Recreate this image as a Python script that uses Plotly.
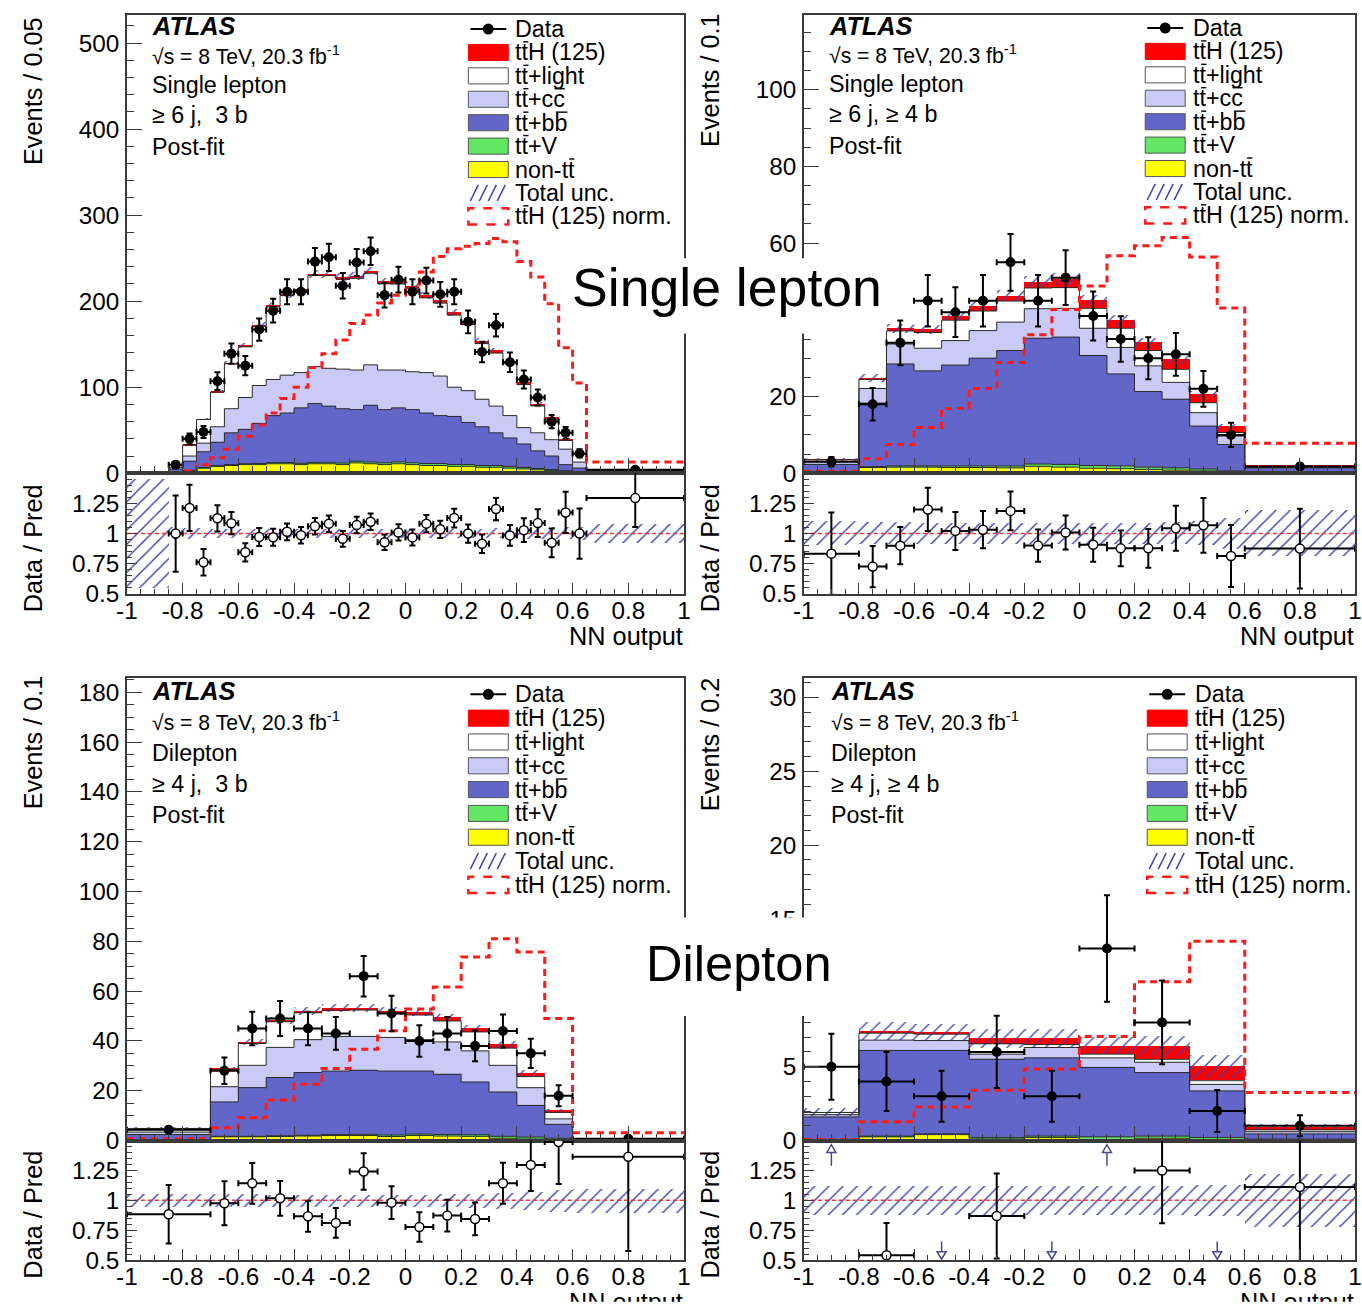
import math
import plotly.graph_objects as go

# ---------------------------------------------------------------------------
# Canvas and style
# ---------------------------------------------------------------------------
FIG_W, FIG_H = 1362, 1315
# Positions below are given in window pixels; the page is displayed with a
# small offset and scale, which these constants undo.
X_PAD = 8
SX = FIG_W / (FIG_W + 2 * X_PAD)
SY = 0.99
Y_OFF = 1.0
Y_CAL_A, Y_CAL_B = 7.1, 0.9944
FK = 1 / SX  # font size compensation

FONT = "Liberation Sans, Arial, Helvetica, sans-serif"
FRAME = "#3a3a3a"
OUTLINE = "#2a2a2a"

COL_TTH = "#ff0000"
COL_LIGHT = "#ffffff"
COL_CC = "#c9caf6"
COL_BB = "#6366c9"
COL_TTV = "#63e663"
COL_NONTT = "#ffff00"
COL_UNC = "#3e3eb0"
COL_NORM = "#ff1a1a"
COL_ARROW = "#4a4a8c"

# ---------------------------------------------------------------------------
# Single lepton, >= 6 j, 3 b   (Events / 0.05)
# ---------------------------------------------------------------------------
edges_sl3b = [-1.0, -0.85, -0.8, -0.75, -0.7, -0.65, -0.6, -0.55, -0.5, -0.45, -0.4,
              -0.35, -0.3, -0.25, -0.2, -0.15, -0.1, -0.05, 0.0, 0.05, 0.1, 0.15, 0.2,
              0.25, 0.3, 0.35, 0.4, 0.45, 0.5, 0.55, 0.6, 0.65, 1.0]
data_sl3b = [None, 10, 40, 48, 107, 139, 125, 167, 189, 211, 211, 246, 251, 218, 245, 258,
             207, 225, 211, 224, 208, 211, 176, 141, 172, 129, 109, 88, 60, 47, 23, 4.14]
nontt_sl3b = [0.2, 1, 3, 6, 8, 9, 10, 10, 11, 11, 10, 11, 11, 10, 12, 11, 10, 11, 10, 9, 9,
              8, 8, 7, 7, 6, 5, 4, 3, 2, 1.5, 0.3]
ttV_sl3b = [0, 0.1, 0.3, 0.5, 0.8, 1, 1, 1.2, 1.3, 1.4, 1.5, 1.6, 1.7, 1.8, 1.9, 2, 2, 2.1,
            2.1, 2.2, 2.2, 2.2, 2.1, 2, 2, 1.9, 1.7, 1.5, 1.2, 0.9, 0.5, 0.1]
bb_sl3b = [0.3, 3.9, 10.7, 18.5, 27.2, 37, 40, 46.8, 54.7, 57.6, 64.5, 68.4, 65.3, 63.2, 60.1,
           66, 62, 62.9, 61.9, 58.8, 55.8, 55.8, 48.9, 45, 38, 33.1, 27.3, 20.5, 15.8, 7.1, 4, 1.1]
cc_sl3b = [0.1, 2, 6, 10, 18, 28, 37, 44, 42, 44, 41, 43, 44, 46, 46, 47, 46, 44, 44, 47, 46,
           34, 37, 32, 31, 26, 19, 21, 19, 18, 7, 0.5]
light_sl3b = [0.2, 2.8, 12.7, 27.5, 40.4, 52.2, 59, 68.8, 84.6, 92.4, 95.2, 106, 107.8, 104.7,
              106.5, 106.4, 100.2, 100.1, 97, 86.9, 84.8, 83.8, 76.7, 64.7, 61.7, 60.8, 50,
              31.2, 23.6, 10.2, 9, 1]
ttH_sl3b = [0, 0.2, 0.3, 0.5, 0.6, 0.8, 1, 1.2, 1.4, 1.6, 1.8, 2, 2.2, 2.3, 2.5, 2.6, 2.8, 2.9,
            3, 3.1, 3.2, 3.2, 3.3, 3.3, 3.3, 3.2, 3, 2.8, 2.4, 1.8, 1, 0.2]
norm_sl3b = [0, 0.5, 3, 10, 18, 28, 43, 56, 70, 87, 100, 123, 139, 155, 174, 184, 198, 207,
             213, 234, 252, 261, 264, 267, 273, 269, 246, 228, 197, 146, 105, 13]
unc_main_sl3b = [0.45, 0.03, 0.025, 0.025, 0.02, 0.02, 0.02, 0.02, 0.02, 0.02, 0.02, 0.02,
                 0.02, 0.02, 0.02, 0.02, 0.02, 0.02, 0.02, 0.02, 0.02, 0.02, 0.02, 0.02, 0.02,
                 0.025, 0.025, 0.025, 0.03, 0.03, 0.035, 0.08]
unc_ratio_sl3b = [0.45, 0.05, 0.045, 0.04, 0.035, 0.035, 0.035, 0.035, 0.035, 0.035, 0.035,
                  0.035, 0.035, 0.035, 0.035, 0.035, 0.035, 0.035, 0.035, 0.035, 0.035, 0.035,
                  0.035, 0.035, 0.04, 0.04, 0.045, 0.045, 0.05, 0.05, 0.055, 0.08]

# ---------------------------------------------------------------------------
# Single lepton, >= 6 j, >= 4 b   (Events / 0.1)
# ---------------------------------------------------------------------------
edges_sl4b = [-1.0, -0.8, -0.7, -0.6, -0.5, -0.4, -0.3, -0.2, -0.1, 0.0, 0.1, 0.2, 0.3, 0.4,
              0.5, 0.6, 1.0]
data_sl4b = [3.0, 18, 34, 45, 42, 45, 55, 45, 51, 41, 35, 30, 31, 22, 10, 1.75]
nontt_sl4b = [0.3, 1.5, 1.6, 1.6, 1.5, 1.5, 1.4, 1.8, 1.6, 1.3, 1.2, 1.0, 0.8, 0.6, 0.3, 0.05]
ttV_sl4b = [0.05, 0.2, 0.3, 0.3, 0.4, 0.4, 0.5, 0.6, 0.7, 0.7, 0.7, 0.6, 0.6, 0.5, 0.3, 0.05]
bb_sl4b = [1.95, 16.6, 26.6, 24.8, 26.3, 28.1, 30.1, 32.8, 33.2, 28.7, 24.0, 19.7, 17.9, 11.2,
           6.9, 1.3]
cc_sl4b = [0.8, 3.8, 5.2, 5.9, 6.4, 7.2, 7.4, 7.7, 7.5, 7.1, 6.9, 6.7, 4.4, 3.5, 2.2, 0.2]
light_sl4b = [0.4, 2.4, 3.4, 4.1, 5.3, 5.1, 5.5, 5.4, 5.4, 5.2, 5.0, 4.0, 3.4, 2.6, 0.9, 0.1]
ttH_sl4b = [0.1, 0.3, 0.7, 0.8, 1.2, 1.3, 1.4, 1.7, 2.2, 2.2, 2.1, 2.2, 2.6, 2.2, 1.7, 0.3]
norm_sl4b = [0.5, 3.8, 7.5, 11.9, 16.9, 22.1, 28.9, 36.1, 42.7, 48.8, 56.7, 59.3, 61.5, 56.4,
             43.1, 7.8]
unc_main_sl4b = [0.14, 0.045, 0.03, 0.03, 0.03, 0.03, 0.03, 0.03, 0.03, 0.03, 0.035, 0.035,
                 0.04, 0.04, 0.05, 0.1]
unc_ratio_sl4b = [0.1, 0.09, 0.09, 0.085, 0.085, 0.085, 0.085, 0.085, 0.085, 0.085, 0.085,
                  0.085, 0.09, 0.1, 0.13, 0.19]

# ---------------------------------------------------------------------------
# Dilepton, >= 4 j, 3 b   (Events / 0.1)
# ---------------------------------------------------------------------------
edges_dl3b = [-1.0, -0.7, -0.6, -0.5, -0.4, -0.3, -0.2, -0.1, 0.0, 0.1, 0.2, 0.3, 0.4, 0.5,
              0.6, 1.0]
data_dl3b = [4.33, 28, 45, 49, 45, 43, 66, 51, 40, 43, 38, 44, 35, 18, 0.75]
nontt_dl3b = [0.3, 1.5, 1.5, 1.6, 1.8, 2.0, 2.0, 1.6, 2.0, 1.8, 1.7, 0.9, 0.6, 0.4, 0.05]
ttV_dl3b = [0.05, 0.2, 0.2, 0.3, 0.3, 0.4, 0.5, 0.6, 0.6, 0.6, 0.6, 0.8, 0.8, 0.5, 0.05]
bb_dl3b = [2.05, 13.8, 19.5, 23.4, 25.2, 25.5, 25.7, 25.7, 25.3, 24.2, 21.2, 17.8, 12.7, 5.6,
           0.2]
cc_dl3b = [1.0, 6.1, 9.0, 12.1, 13.2, 13.9, 13.6, 13.5, 12.6, 13.0, 12.5, 10.7, 7.1, 2.2, 0.1]
light_dl3b = [1.45, 6.8, 8.8, 10.3, 10.8, 10.5, 10.6, 9.7, 9.9, 8.4, 7.6, 6.9, 4.5, 2.6, 0.05]
ttH_dl3b = [0.05, 0.3, 0.4, 0.5, 0.6, 0.7, 0.8, 0.9, 1.1, 1.3, 1.4, 1.4, 1.3, 0.8, 0.1]
norm_dl3b = [0.7, 5.1, 9.1, 16.3, 22.6, 28.9, 36.7, 44.1, 52.8, 61.6, 73.7, 81.0, 75.7, 49.0,
             3.1]
unc_main_dl3b = [0.05, 0.03, 0.03, 0.03, 0.03, 0.03, 0.03, 0.03, 0.03, 0.03, 0.03, 0.035, 0.04,
                 0.05, 0.1]
unc_ratio_dl3b = [0.055, 0.055, 0.055, 0.05, 0.05, 0.05, 0.05, 0.05, 0.05, 0.055, 0.06, 0.065,
                  0.075, 0.09, 0.1]

# ---------------------------------------------------------------------------
# Dilepton, >= 4 j, >= 4 b   (Events / 0.2)
# ---------------------------------------------------------------------------
edges_dl4b = [-1.0, -0.8, -0.6, -0.4, -0.2, 0.0, 0.2, 0.4, 0.6, 1.0]
data_dl4b = [5, 4, 3, 6, 3, 13, 8, 2, 1.0]
nontt_dl4b = [0.05, 0.25, 0.4, 0.1, 0.2, 0.05, 0.15, 0.05, 0.05]
ttV_dl4b = [0.02, 0.05, 0.05, 0.1, 0.1, 0.2, 0.15, 0.15, 0.05]
bb_dl4b = [1.53, 5.8, 5.65, 5.3, 5.3, 4.7, 4.3, 3.16, 0.35]
cc_dl4b = [0.15, 0.7, 0.67, 0.35, 0.7, 0.65, 0.7, 0.44, 0.15]
light_dl4b = [0.15, 0.47, 0.43, 0.7, 0.2, 0.25, 0.2, 0.25, 0.12]
ttH_dl4b = [0.0, 0.13, 0.1, 0.35, 0.4, 0.55, 0.9, 0.95, 0.18]
norm_dl4b = [0.07, 1.27, 2.27, 3.4, 4.84, 7.05, 10.75, 13.5, 3.25]
unc_main_dl4b = [0.14, 0.08, 0.08, 0.09, 0.09, 0.09, 0.1, 0.16, 0.2]
unc_ratio_dl4b = [0.12, 0.12, 0.12, 0.12, 0.12, 0.12, 0.12, 0.13, 0.22]

# Legend entries; the listed character positions carry an overline (anti-quark bar)
LEGEND_LABELS = ["Data", "ttH (125)", "tt+light", "tt+cc", "tt+bb", "tt+V", "non-tt",
                 "Total unc.", "ttH (125) norm."]
LEGEND_BARS = [[], [1], [1], [1, 4], [1, 4], [1], [5], [], [1]]
CHAR_EM = {"t": 0.278, "c": 0.5, "b": 0.556, "n": 0.556, "o": 0.556, "-": 0.333, "+": 0.584}

X_TICKS = [-1, -0.8, -0.6, -0.4, -0.2, 0, 0.2, 0.4, 0.6, 0.8, 1]
X_TICKTEXT = ["-1", "-0.8", "-0.6", "-0.4", "-0.2", "0", "0.2", "0.4", "0.6", "0.8", "1"]
R_TICKS = [0.5, 0.75, 1, 1.25]
R_TICKTEXT = ["0.5", "0.75", "1", "1.25"]

STACK_COLORS = [COL_NONTT, COL_TTV, COL_BB, COL_CC, COL_LIGHT, COL_TTH]

PANELS = [
    dict(edges=edges_sl3b, ref=0.05, data=data_sl3b,
         comps=[nontt_sl3b, ttV_sl3b, bb_sl3b, cc_sl3b, light_sl3b, ttH_sl3b],
         norm=norm_sl3b, unc_main=unc_main_sl3b, unc_ratio=unc_ratio_sl3b,
         xpx=(124, 682), mainpx=(21, 477), ratiopx=(477, 597),
         ymax=532.7, ydtick=100, yminor=20,
         ytitle="Events / 0.05", title_x=30, title_top=21, rtitle_top=486, nn_y=640,
         text_x=147, text_y=[31.5, 61, 91, 121, 152],
         lines=["Single lepton", "\u2265 6 j,  3 b"],
         leg=(466, 511, 35, 23.3)),
    dict(edges=edges_sl4b, ref=0.1, data=data_sl4b,
         comps=[nontt_sl4b, ttV_sl4b, bb_sl4b, cc_sl4b, light_sl4b, ttH_sl4b],
         norm=norm_sl4b, unc_main=unc_main_sl4b, unc_ratio=unc_ratio_sl4b,
         xpx=(802, 1358), mainpx=(21, 477), ratiopx=(477, 597),
         ymax=119.5, ydtick=20, yminor=5,
         ytitle="Events / 0.1", title_x=708, title_top=17, rtitle_top=486, nn_y=640,
         text_x=825, text_y=[31.5, 60, 90, 120, 151],
         lines=["Single lepton", "\u2265 6 j, \u2265 4 b"],
         leg=(1144, 1190, 34, 23.3)),
    dict(edges=edges_dl3b, ref=0.1, data=data_dl3b,
         comps=[nontt_dl3b, ttV_dl3b, bb_dl3b, cc_dl3b, light_dl3b, ttH_dl3b],
         norm=norm_dl3b, unc_main=unc_main_dl3b, unc_ratio=unc_ratio_dl3b,
         xpx=(124, 682), mainpx=(681, 1141), ratiopx=(1141, 1260),
         ymax=185.6, ydtick=20, yminor=5,
         ytitle="Events / 0.1", title_x=30, title_top=676, rtitle_top=1149, nn_y=1302,
         text_x=147, text_y=[694, 724, 755, 786, 817],
         lines=["Dilepton", "\u2265 4 j,  3 b"],
         leg=(466, 511, 697, 23.7)),
    dict(edges=edges_dl4b, ref=0.2, data=data_dl4b,
         comps=[nontt_dl4b, ttV_dl4b, bb_dl4b, cc_dl4b, light_dl4b, ttH_dl4b],
         norm=norm_dl4b, unc_main=unc_main_dl4b, unc_ratio=unc_ratio_dl4b,
         xpx=(802, 1358), mainpx=(681, 1141), ratiopx=(1141, 1260),
         ymax=31.3, ydtick=5, yminor=1,
         ytitle="Events / 0.2", title_x=708, title_top=678, rtitle_top=1149, nn_y=1302,
         text_x=827, text_y=[694, 724, 755, 786, 817],
         lines=["Dilepton", "\u2265 4 j, \u2265 4 b"],
         leg=(1146, 1192, 697, 23.7)),
]


def fig_px_x(p):
    return p / SX - X_PAD


def fig_px_y(p):
    r = (p - Y_CAL_A) / Y_CAL_B
    return (r + Y_OFF) / SY


def px_x(p):
    return min(max(fig_px_x(p) / FIG_W, 0.0), 1.0)


def px_y(p):
    return min(max(1 - fig_px_y(p) / FIG_H, 0.0), 1.0)


def fs(size):
    return round(size * FK, 1)


def bin_centers(edges):
    return [(a + b) / 2 for a, b in zip(edges[:-1], edges[1:])]


def bin_widths(edges):
    return [b - a for a, b in zip(edges[:-1], edges[1:])]


def step(edges, vals):
    return list(edges), list(vals) + [vals[-1]]


fig = go.Figure()
shapes = []
annotations = []
layout_axes = {}


def axis_name(n, kind):
    return kind if n == 1 else f"{kind}{n}"


def text_ann(x, y, text, size, **kw):
    d = dict(x=px_x(x), y=px_y(y), xref="paper", yref="paper", text=text,
             showarrow=False, font=dict(family=FONT, size=fs(size), color="black"),
             xanchor="left", yanchor="middle")
    d.update(kw)
    annotations.append(d)


def hline_px(x0, x1, y, color, width):
    shapes.append(dict(type="line", xref="paper", yref="paper", x0=px_x(x0), x1=px_x(x1),
                       y0=px_y(y), y1=px_y(y), line=dict(color=color, width=width)))


HATCH = dict(shape="/", size=9, solidity=0.14, fgcolor=COL_UNC, bgcolor="rgba(0,0,0,0)",
             fillmode="replace")

for i, p in enumerate(PANELS):
    nm, nr = 2 * i + 1, 2 * i + 2
    xm, ym = axis_name(nm, "x"), axis_name(nm, "y")
    xr, yr = axis_name(nr, "x"), axis_name(nr, "y")
    edges = p["edges"]
    cen = bin_centers(edges)
    wid = bin_widths(edges)
    nb = len(cen)

    # ---- stacked prediction ----
    base = [0.0] * nb
    levels = []
    for vals, col in zip(p["comps"], STACK_COLORS):
        fig.add_trace(go.Bar(x=cen, y=vals, base=list(base), width=wid,
                             marker=dict(color=col, line=dict(width=0)),
                             xaxis=xm, yaxis=ym, hoverinfo="skip"))
        base = [b + v for b, v in zip(base, vals)]
        levels.append(list(base))
    total = levels[-1]
    for lev in levels[:-1]:
        sx, sy = step(edges, lev)
        fig.add_trace(go.Scatter(x=sx, y=sy, mode="lines",
                                 line=dict(color=OUTLINE, width=1, shape="hv"),
                                 xaxis=xm, yaxis=ym, hoverinfo="skip"))

    # ---- total uncertainty band (hatched) ----
    lo = [t * (1 - u) for t, u in zip(total, p["unc_main"])]
    hi = [2 * t * u for t, u in zip(total, p["unc_main"])]
    fig.add_trace(go.Bar(x=cen, y=hi, base=lo, width=wid,
                         marker=dict(color="rgba(0,0,0,0)", line=dict(width=0), pattern=HATCH),
                         xaxis=xm, yaxis=ym, hoverinfo="skip"))

    # ---- normalised ttH shape ----
    sx, sy = step(edges, p["norm"])
    fig.add_trace(go.Scatter(x=sx, y=sy, mode="lines",
                             line=dict(color=COL_NORM, width=3, dash="7px,5px", shape="hv"),
                             xaxis=xm, yaxis=ym, hoverinfo="skip"))

    # ---- data ----
    dx, dy, dex, dey = [], [], [], []
    rx, ry, rex, rey = [], [], [], []
    arrows = []
    for c, w, d, t in zip(cen, wid, p["data"], total):
        if d is None:
            continue
        f = w / p["ref"]
        err = math.sqrt(d * f) / f
        dx.append(c)
        dy.append(d)
        dex.append(w / 2)
        dey.append(err)
        r = d / t
        if r > 1.5:
            arrows.append((c, "up"))
        elif r < 0.5:
            arrows.append((c, "down"))
        else:
            rx.append(c)
            ry.append(r)
            rex.append(w / 2)
            rey.append(err / t)
    fig.add_trace(go.Scatter(x=dx, y=dy, mode="markers",
                             marker=dict(color="black", size=10),
                             error_x=dict(type="data", array=dex, color="black", thickness=2, width=3),
                             error_y=dict(type="data", array=dey, color="black", thickness=2, width=3),
                             xaxis=xm, yaxis=ym, hoverinfo="skip"))

    # ---- ratio panel ----
    rlo = [1 - u for u in p["unc_ratio"]]
    rhi = [2 * u for u in p["unc_ratio"]]
    fig.add_trace(go.Bar(x=cen, y=rhi, base=rlo, width=wid,
                         marker=dict(color="rgba(0,0,0,0)", line=dict(width=0),
                                     pattern=dict(HATCH, size=10)),
                         xaxis=xr, yaxis=yr, hoverinfo="skip"))
    fig.add_trace(go.Scatter(x=[-1, 1], y=[1, 1], mode="lines",
                             line=dict(color="#ff3030", width=1.5, dash="4px,3px"),
                             xaxis=xr, yaxis=yr, hoverinfo="skip"))
    fig.add_trace(go.Scatter(x=rx, y=ry, mode="markers",
                             marker=dict(color="white", size=9, line=dict(color="black", width=1.5)),
                             error_x=dict(type="data", array=rex, color="black", thickness=2, width=3),
                             error_y=dict(type="data", array=rey, color="black", thickness=2, width=3),
                             xaxis=xr, yaxis=yr, hoverinfo="skip"))
    half = 4.5 / ((p["xpx"][1] - p["xpx"][0]) / 2.0)
    for c, kind in arrows:
        if kind == "up":
            shapes.append(dict(type="line", xref=xr, yref=yr, x0=c, x1=c, y0=1.29, y1=1.40,
                               line=dict(color=COL_ARROW, width=1.5)))
            path = f"M {c - half},1.40 L {c + half},1.40 L {c},1.465 Z"
        else:
            shapes.append(dict(type="line", xref=xr, yref=yr, x0=c, x1=c, y0=0.655, y1=0.57,
                               line=dict(color=COL_ARROW, width=1.5)))
            path = f"M {c - half},0.57 L {c + half},0.57 L {c},0.508 Z"
        shapes.append(dict(type="path", xref=xr, yref=yr, path=path, fillcolor="white",
                           line=dict(color=COL_ARROW, width=1.5)))

    # ---- axes ----
    xdom = [px_x(p["xpx"][0]), px_x(p["xpx"][1])]
    common = dict(showgrid=False, zeroline=False, showline=True, linecolor=FRAME,
                  linewidth=1.5, mirror=True, ticks="inside", tickcolor=FRAME, tickwidth=1.2,
                  tickfont=dict(family=FONT, size=fs(24), color="black"))
    layout_axes[axis_name(nm, "xaxis")] = dict(
        common, domain=xdom, anchor=ym, range=[-1, 1], tick0=-1, dtick=0.2, ticklen=15,
        showticklabels=False,
        minor=dict(ticks="inside", ticklen=7, tick0=-1, dtick=0.05, tickcolor=FRAME, tickwidth=1.2))
    layout_axes[axis_name(nm, "yaxis")] = dict(
        common, domain=[px_y(p["mainpx"][1]), px_y(p["mainpx"][0])], anchor=xm,
        range=[0, p["ymax"]], tick0=0, dtick=p["ydtick"], ticklen=15, ticklabelstandoff=1,
        minor=dict(ticks="inside", ticklen=7, tick0=0, dtick=p["yminor"], tickcolor=FRAME, tickwidth=1.2))
    layout_axes[axis_name(nr, "xaxis")] = dict(
        common, domain=xdom, anchor=yr, range=[-1, 1], tickmode="array", tickvals=X_TICKS,
        ticktext=X_TICKTEXT, ticklen=11, ticklabelstandoff=-6,
        minor=dict(ticks="inside", ticklen=5, tick0=-1, dtick=0.05, tickcolor=FRAME, tickwidth=1.2))
    layout_axes[axis_name(nr, "yaxis")] = dict(
        common, domain=[px_y(p["ratiopx"][1]), px_y(p["ratiopx"][0])], anchor=xr,
        range=[0.5, 1.5], tickmode="array", tickvals=R_TICKS, ticktext=R_TICKTEXT,
        ticklen=10, ticklabelstandoff=1,
        minor=dict(ticks="inside", ticklen=5, tick0=0.5, dtick=0.05, tickcolor=FRAME, tickwidth=1.2))

    # ---- axis titles ----
    annotations.append(dict(x=px_x(p["title_x"]), y=px_y(p["title_top"]), xref="paper",
                            yref="paper", text=p["ytitle"], textangle=-90, showarrow=False,
                            xanchor="center", yanchor="top",
                            font=dict(family=FONT, size=fs(25), color="black")))
    annotations.append(dict(x=px_x(p["title_x"]), y=px_y(p["rtitle_top"]), xref="paper",
                            yref="paper", text="Data / Pred", textangle=-90, showarrow=False,
                            xanchor="center", yanchor="top",
                            font=dict(family=FONT, size=fs(25), color="black")))
    # x title: the text box is kept inside the canvas; a title near the lower
    # edge is cut off by the box rather than spilling out of the figure
    top_px = fig_px_y(p["nn_y"]) - 16
    box_h = min(34, FIG_H - top_px - 1)
    annotations.append(dict(x=px_x(p["xpx"][1]), y=1 - top_px / FIG_H, xref="paper",
                            yref="paper", text="NN output", showarrow=False, xanchor="right",
                            yanchor="top", height=box_h, valign="top", borderpad=0,
                            font=dict(family=FONT, size=fs(25), color="black")))

    # ---- labels ----
    tx, ty = p["text_x"], p["text_y"]
    text_ann(tx, ty[0], "<b><i>ATLAS</i></b>", 25)
    text_ann(tx, ty[1], "\u221as = 8 TeV, 20.3 fb<sup>-1</sup>", 21)
    text_ann(tx, ty[2], p["lines"][0], 23)
    text_ann(tx, ty[3], p["lines"][1], 23)
    text_ann(tx, ty[4], "Post-fit", 23)

    # ---- legend ----
    bx, lx, y0, dyl = p["leg"]
    bw, bh = 40, 16
    lsize = 23
    for k, lab in enumerate(LEGEND_LABELS):
        yc = y0 + k * dyl
        text_ann(lx, yc, lab, lsize)
        for ci in LEGEND_BARS[k]:
            off = sum(CHAR_EM[ch] for ch in lab[:ci]) * lsize
            cw = CHAR_EM[lab[ci]] * lsize
            x0 = lx + 3 + off
            hline_px(x0 + 0.6, x0 + cw - 0.6, yc - 10.5, "black", 1.4)
        if k == 0:
            hline_px(bx + 2, bx + bw - 2, yc, "black", 2)
            cx = bx + bw / 2
            shapes.append(dict(type="circle", xref="paper", yref="paper",
                               x0=px_x(cx - 5.5), x1=px_x(cx + 5.5), y0=px_y(yc + 5.5),
                               y1=px_y(yc - 5.5), fillcolor="black", line=dict(width=0)))
        elif k == 7:
            for j in range(4):
                xs = bx + 2 + 9 * j
                shapes.append(dict(type="line", xref="paper", yref="paper",
                                   x0=px_x(xs), x1=px_x(xs + 8), y0=px_y(yc + 8), y1=px_y(yc - 8),
                                   line=dict(color=COL_UNC, width=1.5)))
        elif k == 8:
            shapes.append(dict(type="rect", xref="paper", yref="paper",
                               x0=px_x(bx), x1=px_x(bx + bw), y0=px_y(yc + bh / 2),
                               y1=px_y(yc - bh / 2), fillcolor="rgba(0,0,0,0)",
                               line=dict(color=COL_NORM, width=2.5, dash="dash")))
        else:
            col = STACK_COLORS[6 - k]
            lcol = COL_TTH if k == 1 else "#555555"
            shapes.append(dict(type="rect", xref="paper", yref="paper",
                               x0=px_x(bx), x1=px_x(bx + bw), y0=px_y(yc + bh / 2),
                               y1=px_y(yc - bh / 2), fillcolor=col,
                               line=dict(color=lcol, width=1)))

# ---- channel captions over the figure ----
for (x0, x1, y0, y1), cap, size, cx, cy in [
        ((560, 884, 263, 338), "Single lepton", 53, 725, 292),
        ((585, 845, 919, 1017), "Dilepton", 50, 737, 965)]:
    shapes.append(dict(type="rect", xref="paper", yref="paper", layer="above",
                       x0=px_x(x0), x1=px_x(x1), y0=px_y(y1), y1=px_y(y0),
                       fillcolor="white", line=dict(width=0)))
    annotations.append(dict(x=px_x(cx), y=px_y(cy), xref="paper", yref="paper", text=cap,
                            showarrow=False, xanchor="center", yanchor="middle",
                            font=dict(family=FONT, size=fs(size), color="black")))

fig.update_layout(
    width=FIG_W, height=FIG_H, margin=dict(l=0, r=0, t=0, b=0),
    paper_bgcolor="white", plot_bgcolor="white", showlegend=False,
    barmode="overlay", bargap=0,
    shapes=shapes, annotations=annotations,
    **layout_axes,
)

fig.write_html("out.html")
